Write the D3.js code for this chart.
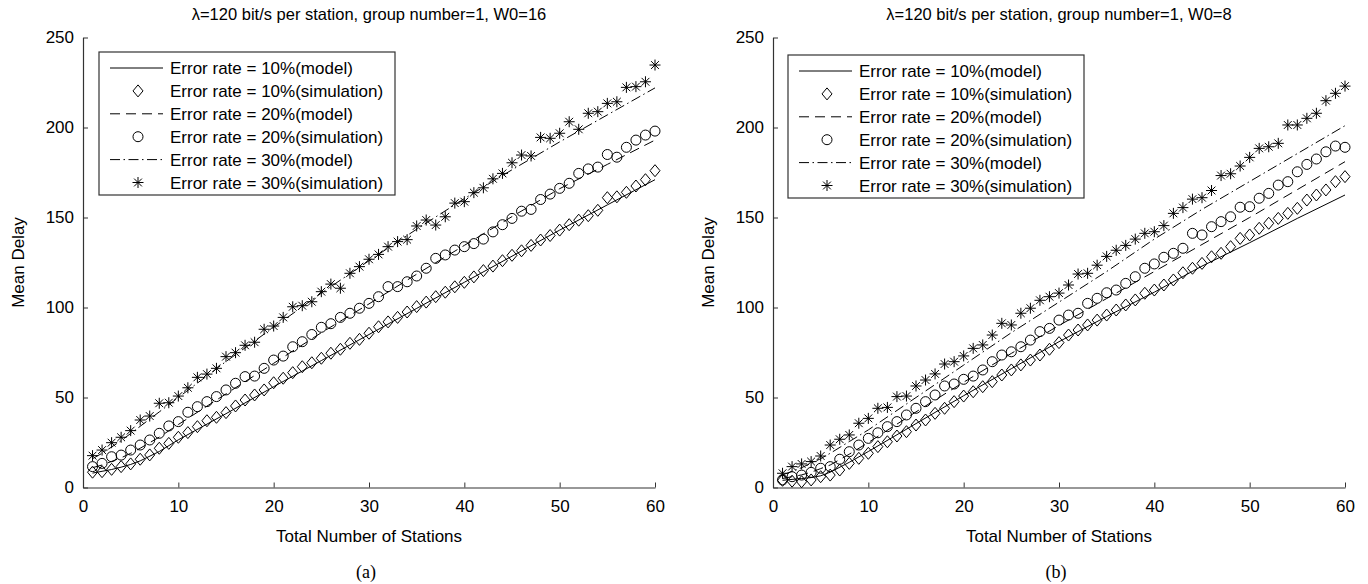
<!DOCTYPE html>
<html>
<head>
<meta charset="utf-8">
<script src="https://cdn.jsdelivr.net/npm/d3@7"></script>
<style>
  body { margin: 0; background: #fff; }
  svg { display: block; }
</style>
</head>
<body>
<div id="chart"></div>
<script>
// station numbers (x) for the simulation markers
const stations = [1,2,3,4,5,6,7,8,9,10,11,12,13,14,15,16,17,18,19,20,21,22,23,24,25,26,27,28,29,30,
                  31,32,33,34,35,36,37,38,39,40,41,42,43,44,45,46,47,48,49,50,51,52,53,54,55,56,57,58,59,60];
const modelStations = [1,2,3,4,5,6,8,10,15,20,25,30,35,40,45,50,55,60];
const xTicks = [0,10,20,30,40,50,60];
const yTicks = [0,50,100,150,200,250];
const legendLabels = [
    "Error rate = 10%(model)", "Error rate = 10%(simulation)",
    "Error rate = 20%(model)", "Error rate = 20%(simulation)",
    "Error rate = 30%(model)", "Error rate = 30%(simulation)"
];

// ---- panel (a): W0=16
const titleA = "\u03bb=120 bit/s per station, group number=1, W0=16";
const modelA10 = [8, 9, 10, 11.3, 12.8, 14.8, 20, 26.5, 41, 56, 70.5, 85, 99.5, 114, 128.5, 143, 157, 171];
const modelA20 = [11, 12.5, 14.5, 16.5, 19, 21.8, 28, 35, 52, 69, 86, 102, 118.5, 134.5, 150.5, 166, 179.5, 193];
const modelA30 = [16, 19, 22.5, 26, 30, 34, 42, 50, 70, 89, 108, 126, 143.5, 160.5, 176.5, 192, 207, 222];
const simA10 = [8.5, 8.8, 10.1, 11.6, 13.1, 15.7, 18.1, 21.8, 24.5, 27.9,
                30.5, 33.8, 37.1, 39, 41.6, 45.3, 48.6, 51.4, 54.2, 58.2,
                60.7, 63.8, 67.1, 69.3, 71.8, 74.6, 76.8, 80.1, 82.3, 85.7,
                89.3, 92, 94.5, 97.5, 100.5, 103, 106, 108.5, 111.5, 114,
                117, 120.5, 123, 126, 129, 131.5, 134.5, 137.5, 140, 143,
                146, 148.5, 151, 154, 161, 161.5, 164, 167.5, 171, 176];
const simA20 = [11.6, 13.4, 17.1, 18, 20.8, 23.6, 26.4, 30.1, 34.2, 36.6,
                41.8, 44.9, 47.7, 50.5, 54.2, 57.9, 61.6, 61.9, 66.2, 70.8,
                73, 78.2, 81, 85, 89, 91, 94.5, 96.8, 99.6, 102.3,
                106, 111.6, 111.6, 114.3, 117.5, 121.8, 127.3, 129.2, 131.9, 133.8,
                135.5, 138, 142, 146, 149.5, 153.5, 154.5, 160, 163, 166.2,
                169, 174.5, 177, 178, 185, 183.5, 189, 193, 195.8, 198];
const simA30 = [17.7, 20.8, 24.9, 27.9, 31.6, 37.5, 39.7, 46.8, 47.1, 50.8,
                55.4, 61.2, 63, 66.2, 72.7, 74.9, 79, 80.7, 87.9, 89.7,
                94.5, 100.4, 101, 103.2, 108.8, 113, 110.7, 119, 122.7, 126.8,
                129.5, 133.8, 136.6, 137.7, 145.3, 148.6, 145.8, 150.4, 158, 158.8,
                163.8, 166.5, 171.5, 174.5, 180.4, 184.7, 184.2, 194.5, 194, 196.8,
                203.2, 199, 207.9, 208.8, 213.4, 214.3, 222.3, 222.7, 225.4, 234.7];

// ---- panel (b): W0=8
const titleB = "\u03bb=120 bit/s per station, group number=1, W0=8";
const modelB10 = [4, 4.5, 5, 5.5, 6.5, 8.5, 14, 20, 35.5, 51, 66, 81, 95, 108.5, 123, 136, 149.5, 162.5];
const modelB20 = [5, 6, 7, 8.5, 10.5, 12.5, 18.5, 25, 42, 58.5, 74.5, 90, 105, 120, 135, 150, 165.5, 181];
const modelB30 = [7, 9, 11, 13.5, 16, 19, 25.5, 32, 50, 68, 86, 103, 120, 138, 154.5, 170, 185.5, 201];
const simB10 = [4, 3.5, 3.2, 4.2, 6, 6.9, 9.7, 13.4, 16.2, 19,
                22.7, 25.4, 28.6, 31, 34.7, 37.5, 41.2, 44, 47.7, 50.8,
                53.2, 56, 58.8, 62.5, 65.3, 68.1, 70.8, 73.6, 76.8, 80.5,
                84.7, 87.5, 90.3, 93, 95.8, 98.6, 101.4, 104.2, 107.9, 109.7,
                112.5, 115.3, 119.3, 121.8, 124.5, 128.2, 130.1, 133.8, 138.4, 140.3,
                144, 146.8, 149.5, 152.3, 155.1, 159.7, 162.5, 165.3, 169.9, 172.7];
const simB20 = [4.2, 6, 6.9, 8.4, 10.7, 11.6, 15.7, 19.9, 23.6, 27.3,
                30.4, 33.8, 36.6, 40.3, 44, 47.7, 51.4, 56.4, 57.5, 60.1,
                61.9, 65.3, 69.9, 73.6, 75.4, 78.2, 81.9, 86.6, 88.4, 93,
                95.8, 96.8, 102.3, 105.1, 108.2, 109.7, 113.4, 117.1, 121.8, 124.2,
                127.9, 130.1, 132.9, 141.2, 140.3, 144.9, 147.7, 150.4, 155.7, 156,
                160.7, 163.4, 168, 169.9, 175.4, 179.5, 182.5, 186.5, 189.7, 189];
const simB30 = [7.9, 11.6, 13.1, 14.4, 17.5, 23.6, 26.8, 29.2, 35.7, 38.4,
                44, 44.5, 50.5, 50.8, 56.4, 59.7, 63.1, 68.6, 69.9, 73.1,
                77.3, 79.2, 84.7, 91.2, 90.3, 96.8, 99.6, 104, 106, 108,
                112.5, 118.6, 119, 123.5, 128.4, 131.8, 134.5, 138, 141.2, 142.1,
                145.5, 152.3, 155.5, 160.2, 161, 165, 173.3, 174.3, 178.6, 183.4,
                188.4, 189.3, 191.2, 201.4, 201.4, 205.1, 207.9, 214.9, 219, 223];

const W = 1368, H = 584;
const sans = "'Liberation Sans', Arial, Helvetica, sans-serif";
const serif = "'Liberation Serif', 'Times New Roman', serif";

const svg = d3.select("#chart").append("svg")
    .attr("width", W)
    .attr("height", H)
    .style("font-family", sans);

// marker shapes (MATLAB-like)
const diamondPath = "M0,-6L5,0L0,6L-5,0Z";
const starPath = "M-5.5,0H5.5M0,-5.5V5.5M-3.9,-3.9L3.9,3.9M-3.9,3.9L3.9,-3.9";
const dashStyles = [null, "10,6", "10,3.5,1.5,3.5"];

function drawMarker(g, type, cx, cy) {
    if (type === "circle") {
        g.append("circle").attr("cx", cx).attr("cy", cy).attr("r", 5)
            .attr("fill", "none").attr("stroke", "#000").attr("stroke-width", 1);
    } else {
        g.append("path")
            .attr("d", type === "diamond" ? diamondPath : starPath)
            .attr("transform", `translate(${cx},${cy})`)
            .attr("fill", "none").attr("stroke", "#000").attr("stroke-width", 1);
    }
}

function drawPanel(p) {
    const x = d3.scaleLinear().domain([0, 60]).range([p.left, p.right]);
    const y = d3.scaleLinear().domain([0, 250]).range([487.5, 37.5]);
    const g = svg.append("g");

    // axes (ticks pointing inward, no box)
    const xAxis = g.append("g")
        .attr("transform", `translate(0,${y(0)})`)
        .call(d3.axisBottom(x).tickValues(xTicks).tickSizeInner(-5).tickSizeOuter(0).tickPadding(12));
    const yAxis = g.append("g")
        .attr("transform", `translate(${x(0)},0)`)
        .call(d3.axisLeft(y).tickValues(yTicks).tickSizeInner(-5).tickSizeOuter(0).tickPadding(9));
    [xAxis, yAxis].forEach(a => {
        a.select(".domain").attr("stroke", "#333").attr("stroke-width", 1.2);
        a.selectAll(".tick line").attr("stroke", "#333");
        a.selectAll(".tick text").attr("fill", "#000")
            .style("font-size", "17px").style("font-family", sans);
    });

    // model curves
    const line = d3.line().x(d => x(d[0])).y(d => y(d[1]));
    p.models.forEach((m, i) => {
        g.append("path")
            .datum(modelStations.map((s, j) => [s, m[j]]))
            .attr("fill", "none")
            .attr("stroke", "#000")
            .attr("stroke-width", 1)
            .attr("stroke-dasharray", dashStyles[i])
            .attr("d", line);
    });

    // simulation markers
    const types = ["diamond", "circle", "star"];
    p.sims.forEach((s, i) => {
        const mg = g.append("g");
        stations.forEach((st, j) => drawMarker(mg, types[i], x(st), y(s[j])));
    });

    // titles and labels
    const cx = (p.left + p.right) / 2;
    g.append("text").attr("x", cx).attr("y", 20)
        .attr("text-anchor", "middle").style("font-size", "16.5px").text(p.title);
    g.append("text").attr("x", cx).attr("y", 542)
        .attr("text-anchor", "middle").style("font-size", "17px").text("Total Number of Stations");
    g.append("text")
        .attr("transform", `translate(${p.left - 59},${y(125)}) rotate(-90)`)
        .attr("text-anchor", "middle").style("font-size", "17px").text("Mean Delay");
    g.append("text").attr("x", cx - 3).attr("y", 578)
        .attr("text-anchor", "middle").style("font-family", serif).style("font-size", "18px")
        .text(p.caption);

    // legend
    const lg = g.append("g").attr("transform", `translate(${p.legend[0]},${p.legend[1]})`);
    lg.append("rect").attr("x", 0).attr("y", 0).attr("width", 296).attr("height", 143)
        .attr("fill", "#fff").attr("stroke", "#333").attr("stroke-width", 1.2);
    legendLabels.forEach((lab, i) => {
        const ry = 16 + i * 22.9;
        const row = lg.append("g");
        if (i % 2 === 0) {
            row.append("line").attr("x1", 11).attr("x2", 64).attr("y1", ry).attr("y2", ry)
                .attr("stroke", "#000").attr("stroke-width", 1)
                .attr("stroke-dasharray", dashStyles[i / 2]);
        } else {
            drawMarker(row, types[(i - 1) / 2], 39, ry);
        }
        row.append("text").attr("x", 71).attr("y", ry).attr("dy", "0.36em")
            .style("font-size", "17px").text(lab);
    });
}

drawPanel({
    left: 83, right: 655, title: titleA, caption: "(a)", legend: [99, 52],
    models: [modelA10, modelA20, modelA30], sims: [simA10, simA20, simA30]
});
drawPanel({
    left: 773, right: 1345, title: titleB, caption: "(b)", legend: [788, 55],
    models: [modelB10, modelB20, modelB30], sims: [simB10, simB20, simB30]
});
</script>
</body>
</html>
